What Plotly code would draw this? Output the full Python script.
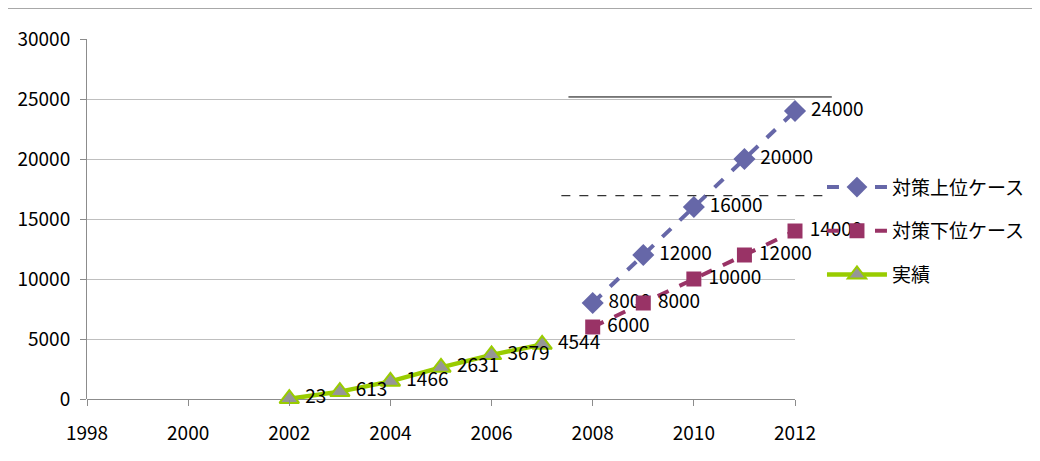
import plotly.graph_objects as go

# 対策上位ケース / 対策下位ケース / 実績
years_plan = [2008, 2009, 2010, 2011, 2012]
upper_case = [8000, 12000, 16000, 20000, 24000]
lower_case = [6000, 8000, 10000, 12000, 14000]

years_actual = [2002, 2003, 2004, 2005, 2006, 2007]
actual = [23, 613, 1466, 2631, 3679, 4544]

x_ticks = [1998, 2000, 2002, 2004, 2006, 2008, 2010, 2012]
y_ticks = [0, 5000, 10000, 15000, 20000, 25000, 30000]

FONT = "Noto Sans CJK JP, sans-serif"
LBL = 19

fig = go.Figure()

fig.add_trace(go.Scatter(
    x=years_plan, y=upper_case, name="対策上位ケース",
    mode="lines+markers+text", text=[" " + str(v) for v in upper_case],
    textposition="middle right", legendgroup="a",
    line=dict(color="#6667A8", width=4, dash="dash"),
    marker=dict(symbol="diamond", size=17, color="#6667A8"),
    textfont=dict(family=FONT, size=LBL, color="black"),
    cliponaxis=False,
))
fig.add_trace(go.Scatter(
    x=years_plan, y=lower_case, name="対策下位ケース",
    mode="lines+markers+text", text=[" " + str(v) for v in lower_case],
    textposition="middle right", legendgroup="b",
    line=dict(color="#993366", width=4, dash="dash"),
    marker=dict(symbol="square", size=15, color="#993366"),
    textfont=dict(family=FONT, size=LBL, color="black"),
    cliponaxis=False,
))
fig.add_trace(go.Scatter(
    x=years_actual, y=actual, name="実績",
    mode="lines+markers+text", text=[" " + str(v) for v in actual],
    textposition="middle right", legendgroup="c",
    line=dict(color="#99CC00", width=4.5),
    marker=dict(symbol="triangle-up", size=17, color="#969696",
                line=dict(color="#99CC00", width=2)),
    textfont=dict(family=FONT, size=LBL, color="black"),
    cliponaxis=False,
))

# outer chart border and the two reference lines
fig.add_shape(type="rect", xref="paper", yref="paper",
              x0=-0.1128, x1=1.5, y0=-0.5, y1=1.086,
              line=dict(color="#8C8C8C", width=1.5))
fig.add_shape(type="line", xref="paper", yref="paper",
              x0=0.680, x1=1.052, y0=0.839, y1=0.839,
              line=dict(color="black", width=1))
fig.add_shape(type="line", xref="paper", yref="paper",
              x0=0.670, x1=1.041, y0=0.5647, y1=0.5647,
              line=dict(color="black", width=1, dash="dash"))

fig.update_layout(
    width=1032, height=453,
    margin=dict(l=79, r=244, t=31, b=62),
    paper_bgcolor="white", plot_bgcolor="white",
    font=dict(family=FONT, size=LBL, color="black"),
    showlegend=True,
    legend=dict(x=1.33, y=0.641, xanchor="right", yanchor="top",
                bgcolor="rgba(0,0,0,0)", itemwidth=60,
                tracegroupgap=16, traceorder="grouped",
                font=dict(family=FONT, size=19, color="black")),
    xaxis=dict(range=[1998, 2012], tickvals=x_ticks,
               ticktext=[str(v) for v in x_ticks], showgrid=False,
               showline=False, zeroline=False, automargin=False,
               ticks="outside", ticklen=6, tickcolor="#8C8C8C",
               ticklabelstandoff=11, tickfont=dict(size=LBL)),
    yaxis=dict(range=[0, 30000], tickvals=y_ticks,
               ticktext=[str(v) for v in y_ticks], showgrid=True,
               gridcolor="#BFBFBF", gridwidth=1, automargin=False,
               showline=True, linecolor="#8C8C8C", zeroline=True,
               zerolinecolor="#8C8C8C", zerolinewidth=1,
               ticks="outside", ticklen=6, tickcolor="#8C8C8C",
               ticklabelstandoff=6, tickfont=dict(size=LBL)),
)

fig.write_html("out.html")
